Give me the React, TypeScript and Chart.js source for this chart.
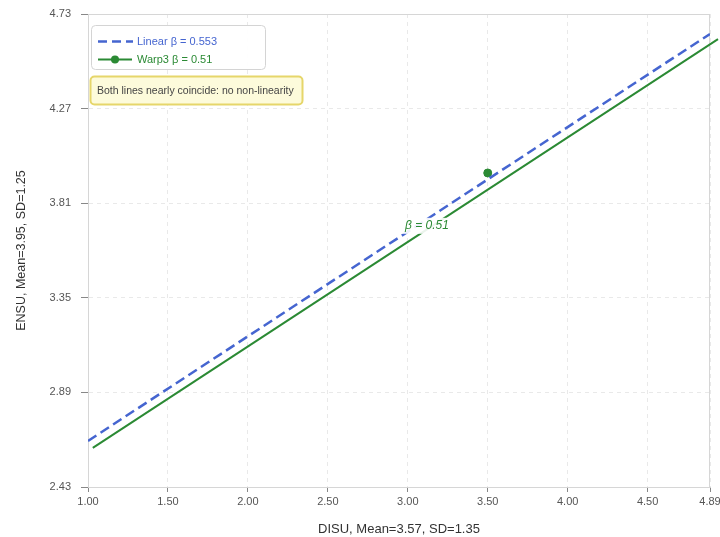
import React, { useEffect, useRef } from "react";
import { Chart, registerables } from "chart.js";

Chart.register(...registerables);

const linearX = [1.0, 4.89];
const linearY = [2.654, 4.633];
const warpX = [1.03, 4.94];
const warpY = [2.62, 4.608];
const pointX = [3.5];
const pointY = [3.957];
const xTicks = [1.0, 1.5, 2.0, 2.5, 3.0, 3.5, 4.0, 4.5, 4.89];
const yTicks = [2.43, 2.89, 3.35, 3.81, 4.27, 4.73];
const betaLabel = { x: 3.12, y: 3.7, text: "β = 0.51" };
const legendItems = ["Linear β = 0.553", "Warp3 β = 0.51"];
const noteText = "Both lines nearly coincide: no non-linearity";

const BLUE = "#4565d0";
const GREEN = "#2b8a34";
const FONT = "'Liberation Sans', Arial, sans-serif";

export default function App() {
  const ref = useRef<HTMLCanvasElement | null>(null);
  useEffect(() => {
    document.body.style.margin = "0";
    const canvas = ref.current!;
    const overlay = {
      id: "overlay",
      beforeDatasetsDraw(chart: any) {
        const { ctx, chartArea: a } = chart;
        ctx.save();
        ctx.strokeStyle = "#d6d6d6";
        ctx.lineWidth = 1;
        ctx.strokeRect(a.left + 0.5, a.top + 0.5, a.right - a.left - 1, a.bottom - a.top);
        ctx.restore();
      },
      afterDraw(chart: any) {
        const { ctx, scales } = chart;
        ctx.save();
        // beta label
        const bx = scales.x.getPixelForValue(betaLabel.x);
        const by = scales.y.getPixelForValue(betaLabel.y);
        ctx.font = `italic 12px ${FONT}`;
        const tw = ctx.measureText(betaLabel.text).width;
        ctx.fillStyle = "rgba(255,255,255,0.9)";
        ctx.fillRect(bx - tw / 2 - 4, by - 8, tw + 8, 16);
        ctx.fillStyle = GREEN;
        ctx.textAlign = "center";
        ctx.textBaseline = "middle";
        ctx.fillText(betaLabel.text, bx, by);

        // legend box
        const lx = 91, ly = 25, lw = 174, lh = 44;
        ctx.beginPath();
        ctx.roundRect(lx + 0.5, ly + 0.5, lw, lh, 4);
        ctx.fillStyle = "rgba(255,255,255,0.95)";
        ctx.fill();
        ctx.strokeStyle = "#d4d4d4";
        ctx.lineWidth = 1;
        ctx.stroke();
        ctx.font = `11px ${FONT}`;
        ctx.textAlign = "left";
        // blue dashed
        ctx.strokeStyle = BLUE;
        ctx.lineWidth = 2.5;
        ctx.setLineDash([9, 5]);
        ctx.beginPath();
        ctx.moveTo(98, 41.5);
        ctx.lineTo(133, 41.5);
        ctx.stroke();
        ctx.setLineDash([]);
        ctx.fillStyle = BLUE;
        ctx.fillText(legendItems[0], 137, 42);
        // green
        ctx.strokeStyle = GREEN;
        ctx.lineWidth = 2;
        ctx.beginPath();
        ctx.moveTo(98, 59.5);
        ctx.lineTo(132, 59.5);
        ctx.stroke();
        ctx.beginPath();
        ctx.arc(115, 59.5, 4, 0, Math.PI * 2);
        ctx.fillStyle = GREEN;
        ctx.fill();
        ctx.fillText(legendItems[1], 137, 60);

        // note box
        const nx = 90, ny = 76, nw = 212, nh = 28;
        ctx.beginPath();
        ctx.roundRect(nx + 0.5, ny + 0.5, nw, nh, 4);
        ctx.fillStyle = "#fdfbdb";
        ctx.fill();
        ctx.strokeStyle = "#e6d66a";
        ctx.stroke();
        ctx.font = `10.5px ${FONT}`;
        ctx.fillStyle = "#444";
        ctx.fillText(noteText, 97, ny + nh / 2 + 1);
        ctx.restore();
      },
    };

    const chart = new Chart(canvas, {
      type: "scatter",
      data: {
        datasets: [
          {
            label: "Linear",
            data: linearX.map((x, i) => ({ x, y: linearY[i] })),
            showLine: true,
            borderColor: BLUE,
            borderWidth: 2.5,
            borderDash: [10, 5],
            pointRadius: 0,
            fill: false,
          },
          {
            label: "Warp3",
            data: warpX.map((x, i) => ({ x, y: warpY[i] })),
            showLine: true,
            borderColor: GREEN,
            borderWidth: 2,
            pointRadius: 0,
            fill: false,
            clip: false as any,
          },
          {
            label: "Point",
            data: pointX.map((x, i) => ({ x, y: pointY[i] })),
            backgroundColor: GREEN,
            borderColor: GREEN,
            pointRadius: 4,
          },
        ],
      },
      options: {
        responsive: false,
        animation: false,
        layout: { padding: { top: 14, right: 10, left: 0, bottom: 0 } },
        plugins: { legend: { display: false }, tooltip: { enabled: false } },
        scales: {
          x: {
            type: "linear",
            min: 1.0,
            max: 4.89,
            afterBuildTicks: (s: any) => {
              s.ticks = xTicks.map((v) => ({ value: v }));
            },
            afterFit: (s: any) => {
              s.height = 50;
              s.paddingLeft = 0;
              s.paddingRight = 0;
            },
            ticks: {
              autoSkip: false,
              maxRotation: 0,
              padding: 3,
              color: "#555",
              font: { family: FONT, size: 11 },
              callback: (v: any) => Number(v).toFixed(2),
            },
            grid: { color: "#e9e9e9", tickLength: 5, tickColor: "#888" },
            border: { display: true, color: "#cfcfcf", dash: [4, 4] },
            title: {
              display: true,
              text: "DISU, Mean=3.57, SD=1.35",
              color: "#333",
              font: { family: FONT, size: 13 },
              padding: { top: 10, bottom: 0 },
            },
          },
          y: {
            type: "linear",
            min: 2.43,
            max: 4.73,
            afterBuildTicks: (s: any) => {
              s.ticks = yTicks.map((v) => ({ value: v }));
            },
            afterFit: (s: any) => {
              s.width = 88;
              s.paddingTop = 0;
              s.paddingBottom = 0;
            },
            ticks: {
              autoSkip: false,
              padding: 10,
              color: "#555",
              font: { family: FONT, size: 11 },
              callback: (v: any) => Number(v).toFixed(2),
            },
            grid: { color: "#e9e9e9", tickLength: 7, tickColor: "#888" },
            border: { display: true, color: "#cfcfcf", dash: [4, 4] },
            title: {
              display: true,
              text: "ENSU, Mean=3.95, SD=1.25",
              color: "#333",
              font: { family: FONT, size: 12.5 },
              padding: { top: 14, bottom: 8 },
            },
          },
        },
      },
      plugins: [overlay],
    });
    return () => chart.destroy();
  }, []);
  return <canvas ref={ref} width={720} height={537} style={{ display: "block" }} />;
}
